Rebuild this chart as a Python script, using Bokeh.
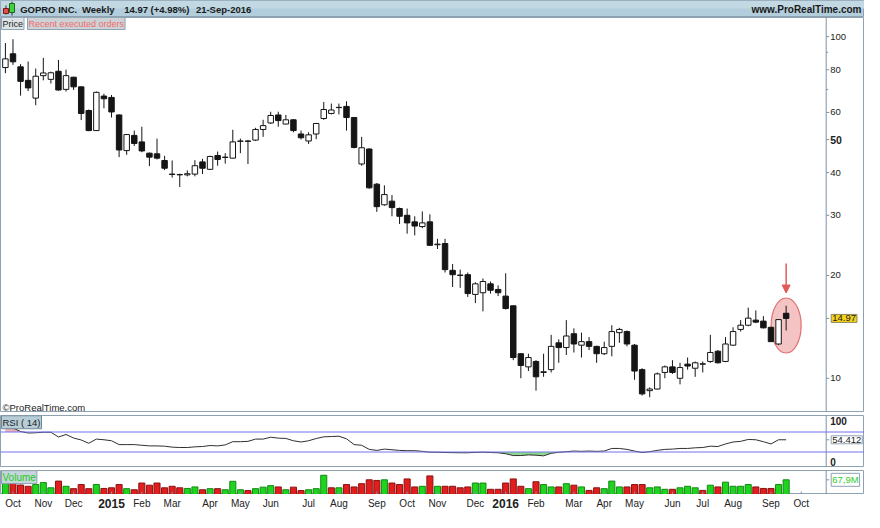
import numpy as np
import pandas as pd
from bokeh.plotting import figure
from bokeh.layouts import column
from bokeh.models import Range1d, Label, Span, Arrow, NormalHead, ColumnDataSource
from bokeh.embed import file_html
from bokeh.resources import INLINE
from bokeh.core.properties import value

FONT = "Liberation Sans"

# ---------------- data ----------------
first_week = "2014-09-29"
opens = [81.2, 89.1, 81.6, 74.5, 66.1, 76.9, 75.0, 79.2, 70.1, 76.1,
         71.3, 60.8, 53.1, 67.0, 66.4, 59.0, 46.4, 51.4, 49.2, 45.6,
         45.4, 43.4, 39.6, 39.5, 39.4, 39.6, 43.0, 40.9, 44.9, 44.4,
         44.1, 49.4, 49.5, 49.8, 53.5, 55.9, 59.0, 55.5, 57.1, 51.9,
         49.5, 51.9, 57.6, 59.6, 62.0, 62.5, 58.0, 42.4, 46.9, 37.0,
         32.2, 33.0, 31.4, 30.0, 28.7, 27.8, 28.7, 24.6, 24.8, 20.7,
         20.05, 20.1, 17.6, 17.8, 18.9, 18.2, 17.4, 16.3, 11.8, 10.8,
         11.2, 10.4, 10.6, 12.7, 12.3, 13.5, 12.5, 12.8, 12.4, 11.8,
         12.4, 13.6, 13.7, 12.5, 10.6, 9.2, 9.3, 10.4, 10.8, 10.0,
         11.0, 10.7, 11.02, 11.2, 12.0, 11.2, 12.5, 13.9, 14.3, 14.8,
         14.7, 14.1, 12.6, 15.5]
highs = [95.8, 98.3, 83.1, 84.6, 80.7, 86.7, 79.0, 85.5, 80.1, 76.3,
         71.5, 61.2, 69.1, 68.1, 67.5, 59.2, 51.9, 53.1, 54.5, 45.8,
         50.3, 44.8, 43.4, 39.7, 40.6, 43.5, 43.9, 44.8, 46.1, 45.6,
         53.4, 50.3, 49.8, 54.1, 57.1, 60.3, 60.3, 59.0, 57.3, 53.1,
         52.5, 55.9, 64.4, 63.7, 63.7, 64.7, 58.2, 50.9, 47.1, 37.3,
         36.7, 34.4, 31.6, 31.4, 29.8, 30.8, 30.2, 25.6, 25.6, 21.6,
         20.8, 20.4, 19.1, 19.6, 19.2, 18.7, 20.3, 16.35, 11.85, 11.8,
         11.3, 11.8, 13.4, 13.0, 14.8, 14.0, 13.6, 13.2, 12.45, 12.8,
         14.3, 14.05, 13.8, 12.6, 10.7, 9.4, 10.4, 10.9, 11.3, 11.1,
         11.5, 11.2, 11.2, 13.4, 12.1, 13.2, 14.1, 14.8, 16.1, 15.8,
         15.2, 14.15, 14.9, 16.3]
lows = [78.2, 82.7, 67.2, 69.3, 63.0, 74.5, 72.9, 69.5, 69.1, 69.8,
        57.0, 52.9, 53.0, 61.7, 58.0, 44.4, 45.1, 47.9, 45.9, 41.8,
        43.7, 40.7, 38.7, 36.3, 39.0, 39.0, 39.6, 40.7, 41.9, 42.5,
        44.0, 45.6, 42.4, 49.5, 50.9, 55.5, 54.5, 55.4, 52.5, 50.0,
        48.5, 50.1, 57.1, 59.2, 59.2, 53.1, 47.1, 41.9, 35.9, 30.7,
        32.0, 29.8, 28.3, 26.5, 26.2, 27.5, 24.4, 23.9, 20.4, 18.5,
        18.4, 17.3, 16.6, 15.7, 17.7, 17.4, 15.9, 11.3, 10.0, 10.5,
        9.2, 10.1, 10.4, 11.1, 11.7, 11.9, 11.5, 12.1, 11.1, 11.7,
        11.6, 12.7, 12.4, 9.9, 8.9, 8.8, 9.28, 10.0, 10.3, 9.6,
        10.6, 10.1, 10.4, 11.1, 11.05, 11.15, 12.45, 13.7, 14.2, 14.5,
        14.0, 12.78, 12.5, 13.8]
closes = [86.1, 84.4, 74.0, 70.8, 76.6, 78.3, 78.4, 69.8, 76.9, 71.3,
          59.6, 53.1, 68.7, 65.8, 60.2, 46.6, 51.7, 48.7, 46.3, 44.4,
          44.1, 41.2, 39.5, 39.4, 39.7, 41.9, 41.2, 44.6, 43.7, 44.3,
          49.2, 49.5, 49.4, 53.5, 54.9, 58.8, 56.8, 57.1, 53.1, 50.6,
          51.6, 55.7, 61.2, 61.0, 62.1, 58.0, 47.4, 47.3, 36.1, 31.8,
          34.5, 31.6, 29.8, 28.5, 27.9, 28.5, 24.5, 24.7, 20.8, 20.1,
          20.0, 17.7, 18.9, 19.2, 18.1, 17.8, 16.0, 11.5, 10.9, 11.5,
          10.1, 10.45, 12.4, 12.3, 13.3, 12.6, 12.8, 12.4, 11.8, 12.3,
          13.7, 13.9, 12.6, 10.5, 9.0, 9.3, 10.3, 10.8, 10.4, 10.75,
          10.86, 11.1, 11.0, 11.9, 11.1, 12.6, 13.7, 14.3, 15.0, 14.6,
          14.05, 12.8, 14.85, 14.97]
volume_m = [56, 56, 44, 38, 46, 55, 31, 62, 38, 27,
            46, 27, 46, 28, 31, 46, 27, 22, 53, 43,
            53, 31, 38, 31, 28, 35, 22, 27, 27, 22,
            61, 22, 18, 27, 34, 41, 35, 22, 34, 18,
            22, 27, 89, 31, 31, 46, 35, 50, 68, 65,
            68, 53, 46, 72, 35, 38, 86, 38, 38, 38,
            31, 35, 53, 53, 24, 24, 53, 72, 38, 27,
            59, 46, 35, 35, 50, 43, 35, 19, 31, 27,
            62, 35, 35, 46, 46, 31, 35, 24, 24, 31,
            38, 31, 19, 43, 35, 57, 38, 38, 46, 35,
            28, 28, 46, 67.9]
rsi14 = [80, 78, 71, 68, 68.5, 69.5, 69.5, 60, 65, 58,
         54, 47.5, 55.8, 54.5, 52.5, 44.8, 44.8, 44.8, 43.5, 42.2,
         42.2, 41.6, 39.7, 39, 39, 40.3, 41, 42.9, 42.2, 44.2,
         50.6, 50.6, 51.3, 55.8, 55.8, 59.6, 57.7, 57.1, 52.5, 50,
         52.5, 57, 60.3, 61, 61.6, 56.4, 44.8, 43.5, 35.2, 33.2,
         35.8, 34.5, 33.2, 32.6, 32.6, 31.3, 29.6, 29.5, 29, 28.7,
         28.5, 28.5, 29.2, 29.6, 29, 28.5, 26.5, 22.9, 22.9, 24.2,
         23.6, 22.3, 27.4, 29.4, 30.6, 31.9, 31.3, 31.9, 31.3, 31.9,
         37.1, 37.1, 35.2, 31.9, 29, 30.6, 33.2, 35.2, 35.8, 37.1,
         37.1, 38.4, 39, 41.6, 41, 46.1, 50, 51.3, 55.1, 54.5,
         50.6, 46.1, 54.5, 54.412]
price_ticks = [10, 20, 30, 40, 50, 60, 80, 100]
price_minor = [70, 90]
rsi_ticks = [0, 100]
title_parts = ["GOPRO INC.", "Weekly", "14.97 (+4.98%)", "21-Sep-2016"]
site_text = "www.ProRealTime.com"

# ---------------- layout constants ----------------
W = 864
PXU = 7.58                      # pixels per weekly bar
X0 = -4.9 / PXU                 # left edge of the frames
XR = Range1d(X0, X0 + W / PXU)  # frames span the whole width
XA = X0 + 825.7 / PXU           # position of the price / indicator scale
P_LO, P_HI = 7.94, 113.8
R_LO, R_HI = -1, 103
V_TOP = 111
H_PRICE, H_RSI, H_VOL, GAP = 395, 52, 24, 3
BORDER = "#8ea2b2"
AXIS = "#7d93a6"
TXT = "#222222"

n = len(closes)
idx = np.arange(n)
o, hi, lo, c = (np.array(a, dtype=float) for a in (opens, highs, lows, closes))
up = c >= o
vol_up = np.concatenate([[True], c[1:] > c[:-1]])
rsi = np.array(rsi14, dtype=float)

dates = pd.date_range(first_week, periods=int(XA) + 1, freq="7D")
m_x, m_txt, y_x, y_txt = [], [], [], []
for i in range(1, len(dates)):
    if dates[i].month != dates[i - 1].month:
        if dates[i].month == 1:
            y_x.append(i)
            y_txt.append(str(dates[i].year))
        else:
            m_x.append(i)
            m_txt.append(dates[i].strftime("%b"))
tick_x = sorted(m_x + y_x)


def panel(height, y_range, top_gap=0, **kw):
    f = figure(width=W, height=height + top_gap, x_range=XR, y_range=y_range,
               toolbar_location=None, output_backend="svg", min_border=0,
               min_border_top=top_gap, x_axis_type=None, y_axis_type=None, **kw)
    f.grid.visible = False
    f.outline_line_color = BORDER
    f.background_fill_color = "white"
    f.border_fill_color = "white"
    f.add_layout(Span(location=XA, dimension="height", line_color=AXIS, line_width=1))
    return f


def scale_ticks(f, ys, length_px, color=AXIS):
    f.segment(x0=[XA] * len(ys), x1=[XA + length_px / PXU] * len(ys), y0=ys, y1=ys,
              line_color=color, line_width=1)


def scale_labels(f, ys, texts, bold=False, size="9.5px", yo=0):
    f.text(x=[XA] * len(ys), y=ys, text=texts, x_offset=4, y_offset=yo,
           text_font=value(FONT), text_font_size=size, text_color=TXT,
           text_font_style="bold" if bold else "normal",
           text_align="left", text_baseline="middle")


def tag(f, x, y, text, color=TXT, bg=None, bold=False, size="9.5px",
        baseline="middle", xo=0, border=BORDER):
    lab = Label(x=x, y=y, text=text, x_offset=xo,
                text_font=FONT, text_font_size=size, text_color=color,
                text_font_style="bold" if bold else "normal",
                text_align="left", text_baseline=baseline)
    if bg is not None:
        lab.background_fill_color = bg
        lab.border_line_color = border
        lab.padding = 1
    f.add_layout(lab)


# ---------------- header ----------------
sx = W / 880.0
hdr = figure(width=W, height=17, x_range=Range1d(0, W), y_range=Range1d(0, 17),
             toolbar_location=None, output_backend="svg", min_border=0,
             x_axis_type=None, y_axis_type=None)
hdr.grid.visible = False
hdr.outline_line_color = BORDER
hdr.background_fill_color = "#b2cddb"
hdr.border_fill_color = "#b2cddb"
hdr.quad(left=[0], right=[W], bottom=[9], top=[17], fill_color="#c2d9e4", line_color=None)
hdr.segment(x0=[5.5, 11.5], y0=[3, 2], x1=[5.5, 11.5], y1=[12, 16], line_color="#333333")
hdr.quad(left=[3, 9], right=[8, 14], bottom=[4, 5], top=[9, 14],
         fill_color=["#e84a4a", "#3fd23f"], line_color=["#7a1a1a", "#1a6a1a"])
hdr.text(x=[20 * sx, 83 * sx, 126 * sx, 199 * sx], y=[8.5] * 4, text=title_parts,
         text_font=value(FONT), text_font_style="bold", text_font_size="9.5px",
         text_baseline="middle", text_color="#1a1a1a")
hdr.text(x=[W - 3], y=[8.5], text=[site_text], text_font=value(FONT),
         text_font_style="bold", text_font_size="10px", text_align="right",
         text_baseline="middle", text_color="#1a1a1a")

# ---------------- price panel ----------------
p = figure(width=W, height=H_PRICE, x_range=XR, y_range=Range1d(P_LO, P_HI),
           y_axis_type="log", x_axis_type=None, toolbar_location=None,
           output_backend="svg", min_border=0)
p.yaxis.visible = False
p.grid.visible = False
p.outline_line_color = BORDER
p.add_layout(Span(location=XA, dimension="height", line_color=AXIS, line_width=1))

last = n - 1
cy = float(np.sqrt(hi[-2:].max() * lo[-2:].min()))
p.ellipse(x=[last], y=[cy], width=30, height=55, width_units="screen", height_units="screen",
          fill_color="#f4c4c4", line_color="#e07070", line_width=1.2)

src = ColumnDataSource(dict(x=idx, top=np.maximum(o, c), bottom=np.minimum(o, c),
                            high=hi, low=lo,
                            fill=np.where(up, "white", "#151515")))
p.segment(x0="x", y0="high", x1="x", y1="low", source=src, line_color="#151515", line_width=1)
p.vbar(x="x", width=0.72, top="top", bottom="bottom", source=src,
       fill_color="fill", line_color="#151515", line_width=1)

p.add_layout(Arrow(end=NormalHead(size=8, fill_color="#e05a5a", line_color="#e05a5a"),
                   x_start=last, y_start=hi[-1] * 1.33, x_end=last, y_end=hi[-1] * 1.09,
                   line_color="#e05a5a", line_width=1.5))

scale_ticks(p, price_ticks + [c[-1]], 3)
scale_ticks(p, price_minor, 2)
plain = [t for t in price_ticks if t != 50]
scale_labels(p, plain, [str(t) for t in plain])
scale_labels(p, [50], ["50"], bold=True, size="10.5px")
tag(p, XA, c[-1], f"{c[-1]:.2f}", bg="#f7d21a", xo=5, border="#8a8a60", size="9.5px")
tag(p, X0, P_HI, "Price", bg="#dde3e7", baseline="top", xo=1, size="9px")
tag(p, X0, P_HI, "Recent executed orders", color="#f26b6b", bg="#ccd2d6",
    baseline="top", xo=27, size="9px")
tag(p, X0, P_LO, "\u00a9ProRealTime.com", baseline="bottom", xo=2, size="9.5px")

# ---------------- RSI panel ----------------
r = panel(H_RSI, Range1d(R_LO, R_HI), top_gap=GAP)
r.varea(x=idx, y1=np.full(n, 70.0), y2=np.maximum(rsi, 70), fill_color="#f0b3b3")
r.varea(x=idx, y1=np.full(n, 30.0), y2=np.minimum(rsi, 30), fill_color="#8fd88f")
for lvl in (70, 30):
    r.add_layout(Span(location=lvl, dimension="width", line_color="#7272ee", line_width=1))
r.line(x=idx, y=rsi, line_color="#303030", line_width=1)
scale_ticks(r, [rsi[-1]], 3)
scale_labels(r, [rsi_ticks[1]], ["100"], bold=True, size="10px", yo=4)
scale_labels(r, [rsi_ticks[0]], ["0"], bold=True, size="10px", yo=-5)
tag(r, XA, rsi[-1], f"{rsi[-1]:.3f}", bg="white", xo=5, size="9.5px")
tag(r, X0, R_HI - 0.5, "RSI ( 14)", bg="#b7cdd8", baseline="top", xo=1, size="9.5px",
    border="#6f8797")

# ---------------- volume panel ----------------
v = panel(H_VOL, Range1d(0, V_TOP), top_gap=GAP)
v.vbar(x=idx, width=0.8, top=volume_m, bottom=0,
       fill_color=np.where(vol_up, "#1ed41e", "#e21d1d").tolist(),
       line_color=np.where(vol_up, "#128a12", "#8a1212").tolist(), line_width=1)
tl = 3 * V_TOP / H_VOL
v.segment(x0=tick_x, x1=tick_x, y0=[0] * len(tick_x), y1=[tl] * len(tick_x),
          line_color=AXIS, line_width=1)
scale_ticks(v, [volume_m[-1]], 3)
tag(v, XA, volume_m[-1], f"{volume_m[-1]:.1f}M".replace(".", ","), color="#2ecc2e",
    bg="white", xo=5, size="9.5px")
tag(v, X0, V_TOP - 0.5, "Volume", color="#22cc22", bg="#c7d5dc", baseline="top", xo=1,
    size="10px", border="#8aa0ae")

# ---------------- date scale ----------------
d = figure(width=W, height=18, x_range=XR, y_range=Range1d(0, 1),
           toolbar_location=None, output_backend="svg", min_border=0,
           x_axis_type=None, y_axis_type=None)
d.grid.visible = False
d.outline_line_color = None
d.text(x=m_x, y=[0.5] * len(m_x), text=m_txt, text_font=value(FONT),
       text_font_size="10px", text_color=TXT, text_align="center", text_baseline="middle")
d.text(x=y_x, y=[0.5] * len(y_x), text=y_txt, text_font=value(FONT), text_font_style="bold",
       text_font_size="12px", text_color=TXT, text_align="center", text_baseline="middle")

layout = column(hdr, p, r, v, d, spacing=0)
open("out.html", "w").write(file_html(layout, INLINE))
